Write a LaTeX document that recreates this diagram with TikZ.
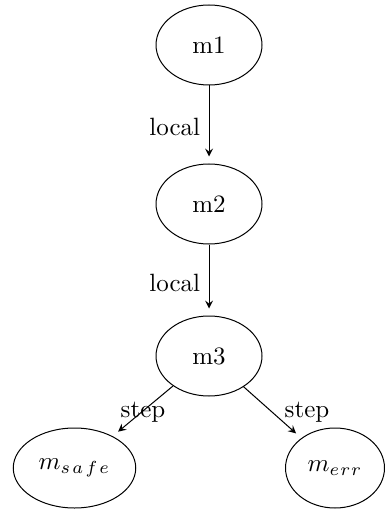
\documentclass[tikz,border=0pt]{standalone}
\usetikzlibrary{shapes.geometric}
\begin{document}
\begin{tikzpicture}[x=0.4pt,y=-0.4pt,
  st/.style={draw, ellipse, inner sep=0pt, minimum height=32pt},
  conn/.style={-stealth, shorten >=2.8pt}]
\useasboundingbox (0,0) rectangle (385,512);
\node[st, minimum width=42.4pt] (m1) at (209,45) {m1};
\node[st, minimum width=42.4pt] (m2) at (209,204) {m2};
\node[st, minimum width=42.4pt] (m3) at (209,356) {m3};
\node[st, minimum width=49pt] (ms) at (74.5,468) {$m_{s\mkern2mu a\mkern2mu f\mkern2mu e}$};
\node[st, minimum width=39.6pt] (me) at (335,468) {$m_{e\mkern1mu r\mkern1mu r}$};
\draw[conn] (m1) -- node[left, yshift=-1pt] {local} (m2);
\draw[conn] (m2) -- node[left, yshift=-1pt] {local} (m3);
\draw[conn] (m3) -- (ms);
\draw[conn] (m3) -- (me);
\node (l1) at (143,412) {step};
\node (l2) at (307,412) {step};
\end{tikzpicture}
\end{document}
